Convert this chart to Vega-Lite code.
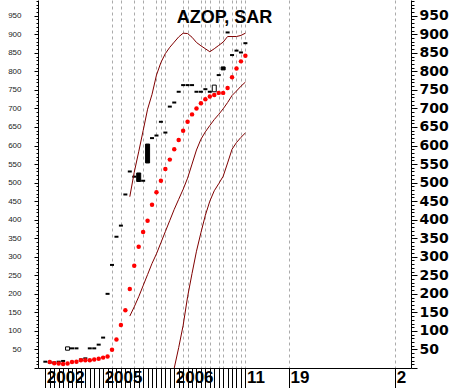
{
  "$schema": "https://vega.github.io/schema/vega-lite/v6.json",
  "autosize": {"type": "none"},
  "width": 373,
  "height": 368,
  "padding": {"left": 38, "top": 0, "right": 39, "bottom": 20},
  "background": "white",
  "config": {"view": {"stroke": null}},
  "title": {"text": "AZOP, SAR", "font": "Liberation Sans", "fontSize": 18, "fontWeight": "bold", "color": "black", "anchor": "middle", "offset": -33, "orient": "top"},
  "data": {"values": [
    {"i": 0, "c": 17},
    {"i": 1, "c": 15, "sar": 16},
    {"i": 2, "c": 15, "sar": 12.6},
    {"i": 3, "c": 17, "sar": 12},
    {"i": 4, "c": 19, "sar": 11},
    {"i": 5, "o": 48, "c": 57, "sar": 12},
    {"i": 6, "c": 53, "sar": 16},
    {"i": 7, "c": 53, "sar": 17},
    {"i": 8, "c": 23, "sar": 21},
    {"i": 9, "c": 26, "sar": 21},
    {"i": 10, "c": 53, "sar": 21},
    {"i": 11, "c": 53, "sar": 23},
    {"i": 12, "c": 63, "sar": 25},
    {"i": 13, "c": 82, "sar": 28},
    {"i": 14, "c": 200, "sar": 31},
    {"i": 15, "c": 278, "sar": 49},
    {"i": 16, "c": 354, "sar": 77},
    {"i": 17, "c": 384, "sar": 116},
    {"i": 18, "c": 468, "sar": 156},
    {"i": 19, "c": 530, "sar": 213, "up": 462, "mid": 140},
    {"i": 20, "c": 516, "sar": 276, "up": 528, "mid": 165},
    {"i": 21, "o": 526, "c": 503, "sar": 327, "up": 583, "mid": 192},
    {"i": 22, "c": 505, "sar": 367, "up": 640, "mid": 222},
    {"i": 23, "o": 604, "c": 553, "sar": 397, "up": 698, "mid": 252},
    {"i": 24, "c": 620, "sar": 440, "up": 738, "mid": 282},
    {"i": 25, "c": 627, "sar": 474, "up": 790, "mid": 308},
    {"i": 26, "c": 664, "sar": 505, "up": 824, "mid": 338},
    {"i": 27, "c": 635, "sar": 537, "up": 848, "mid": 368},
    {"i": 28, "c": 705, "sar": 562, "up": 865, "mid": 398},
    {"i": 29, "c": 716, "sar": 590, "up": 879, "mid": 428, "lo": 0},
    {"i": 30, "c": 745, "sar": 615, "up": 893, "mid": 455, "lo": 55},
    {"i": 31, "c": 763, "sar": 640, "up": 903, "mid": 482, "lo": 115},
    {"i": 32, "c": 763, "sar": 664, "up": 902, "mid": 512, "lo": 192},
    {"i": 33, "c": 763, "sar": 684, "up": 892, "mid": 550, "lo": 255},
    {"i": 34, "c": 745, "sar": 700, "up": 878, "mid": 588, "lo": 315},
    {"i": 35, "c": 745, "sar": 714, "up": 869, "mid": 617, "lo": 365},
    {"i": 36, "c": 752, "sar": 725, "up": 861, "mid": 637, "lo": 412},
    {"i": 37, "c": 745, "sar": 732, "up": 853, "mid": 654, "lo": 450},
    {"i": 38, "o": 745, "c": 763, "sar": 736, "up": 861, "mid": 670, "lo": 478},
    {"i": 39, "c": 790, "sar": 742, "up": 870, "mid": 684, "lo": 497},
    {"i": 40, "o": 812, "c": 804, "sar": 742, "up": 879, "mid": 699, "lo": 517},
    {"i": 41, "c": 905, "sar": 755, "up": 894, "mid": 716, "lo": 553},
    {"i": 42, "c": 844, "sar": 784, "up": 894, "mid": 735, "lo": 590},
    {"i": 43, "c": 856, "sar": 808, "up": 894, "mid": 747, "lo": 608},
    {"i": 44, "c": 851, "sar": 827, "up": 897, "mid": 760, "lo": 622},
    {"i": 45, "c": 876, "sar": 842, "up": 903, "mid": 771, "lo": 634}
  ]},
  "encoding": {
    "x": {
      "field": "i", "type": "quantitative",
      "scale": {"domain": [-0.525, 81.13], "nice": false, "zero": false},
      "axis": {
        "orient": "bottom",
        "values": [0,1,2,3,4,5,6,7,8,9,10,11,12,13,14,15,16,17,18,19,20,21,22,23,24,25,26,27,28,29,30,31,32,33,34,35,36,37,38,39,40,41,42,43,44,45,54.8,78.7],
        "tickSize": 20,
        "tickColor": "black",
        "domainColor": "black",
        "grid": true,
        "gridDash": [3, 3],
        "gridColor": "#aaaaaa",
        "gridOpacity": {"condition": {"test": "indexof([15,17,20,22,25,26,27,31,32,35,36,37,39,40,42,43,44,45,54.8,78.7], datum.value) >= 0", "value": 1}, "value": 0},
        "labelExpr": "datum.value === 0 ? '2002' : datum.value === 13 ? '2005' : datum.value === 29 ? '2006' : datum.value === 45 ? '11' : datum.value === 54.8 ? '19' : datum.value === 78.7 ? '2' : ''",
        "labelAlign": "left",
        "labelBaseline": "top",
        "labelPadding": -19,
        "labelOffset": 1,
        "labelFont": "Liberation Sans",
        "labelFontWeight": "bold",
        "labelFontSize": 17,
        "labelColor": "black",
        "labelOverlap": false,
        "labelFlush": false,
        "labelBound": false,
        "title": null
      }
    }
  },
  "layer": [
    {
      "transform": [{"filter": "datum.o == null"}],
      "mark": {"type": "tick", "orient": "horizontal", "color": "black", "size": 4, "thickness": 2, "opacity": 1},
      "encoding": {
        "y": {
          "field": "c", "type": "quantitative",
          "scale": {"domain": [0, 992.5], "nice": false, "zero": false},
          "axis": {
            "orient": "right",
            "values": [0,10,20,30,40,50,60,70,80,90,100,110,120,130,140,150,160,170,180,190,200,210,220,230,240,250,260,270,280,290,300,310,320,330,340,350,360,370,380,390,400,410,420,430,440,450,460,470,480,490,500,510,520,530,540,550,560,570,580,590,600,610,620,630,640,650,660,670,680,690,700,710,720,730,740,750,760,770,780,790,800,810,820,830,840,850,860,870,880,890,900,910,920,930,940,950,960,970,980,990],
            "tickSize": {"condition": {"test": "datum.value % 50 === 0", "value": 6}, "value": 3},
            "tickColor": "black",
            "domainColor": "black",
            "labelExpr": "datum.value % 50 === 0 && datum.value > 0 ? datum.label : ''",
            "format": "d",
            "labelFont": "DejaVu Sans",
            "labelFontWeight": "bold",
            "labelFontSize": 14,
            "labelColor": "black",
            "labelPadding": 2,
            "labelOverlap": false,
            "labelFlush": false,
            "labelBound": false,
            "grid": false,
            "title": null
          }
        }
      }
    },
    {
      "transform": [{"filter": "datum.o != null"}],
      "mark": {"type": "bar", "size": 4, "stroke": "black", "strokeWidth": 1},
      "encoding": {
        "y": {"field": "o", "type": "quantitative", "scale": {"domain": [0, 992.5], "nice": false, "zero": false}, "axis": null},
        "y2": {"field": "c"},
        "fill": {"condition": {"test": "datum.c > datum.o", "value": "white"}, "value": "black"}
      }
    },
    {
      "transform": [{"filter": "isValid(datum.up)"}],
      "mark": {"type": "line", "color": "#800000", "strokeWidth": 1},
      "encoding": {"y": {"field": "up", "type": "quantitative", "scale": {"domain": [0, 992.5], "nice": false, "zero": false}, "axis": null}}
    },
    {
      "transform": [{"filter": "isValid(datum.mid)"}],
      "mark": {"type": "line", "color": "#800000", "strokeWidth": 1},
      "encoding": {"y": {"field": "mid", "type": "quantitative", "scale": {"domain": [0, 992.5], "nice": false, "zero": false}, "axis": null}}
    },
    {
      "transform": [{"filter": "isValid(datum.lo)"}],
      "mark": {"type": "line", "color": "#800000", "strokeWidth": 1, "clip": true},
      "encoding": {"y": {"field": "lo", "type": "quantitative", "scale": {"domain": [0, 992.5], "nice": false, "zero": false}, "axis": null}}
    },
    {
      "transform": [{"filter": "isValid(datum.sar)"}],
      "mark": {"type": "point", "shape": "circle", "filled": true, "color": "#ff0000", "size": 20, "opacity": 1},
      "encoding": {
        "y": {
          "field": "sar", "type": "quantitative",
          "scale": {"domain": [0, 992.5], "nice": false, "zero": false},
          "axis": {
            "orient": "left",
            "values": [0,10,20,30,40,50,60,70,80,90,100,110,120,130,140,150,160,170,180,190,200,210,220,230,240,250,260,270,280,290,300,310,320,330,340,350,360,370,380,390,400,410,420,430,440,450,460,470,480,490,500,510,520,530,540,550,560,570,580,590,600,610,620,630,640,650,660,670,680,690,700,710,720,730,740,750,760,770,780,790,800,810,820,830,840,850,860,870,880,890,900,910,920,930,940,950,960,970,980,990],
            "tickSize": {"condition": {"test": "datum.value % 50 === 0", "value": 4}, "value": 2},
            "tickColor": "black",
            "domainColor": "black",
            "labelExpr": "datum.value % 50 === 0 && datum.value > 0 ? datum.label : ''",
            "format": "d",
            "labelFont": "Liberation Sans",
            "labelFontSize": 8,
            "labelColor": "#222222",
            "labelPadding": 13,
            "labelOverlap": false,
            "labelFlush": false,
            "labelBound": false,
            "grid": false,
            "title": null
          }
        }
      }
    }
  ],
  "resolve": {"axis": {"y": "independent"}}
}
